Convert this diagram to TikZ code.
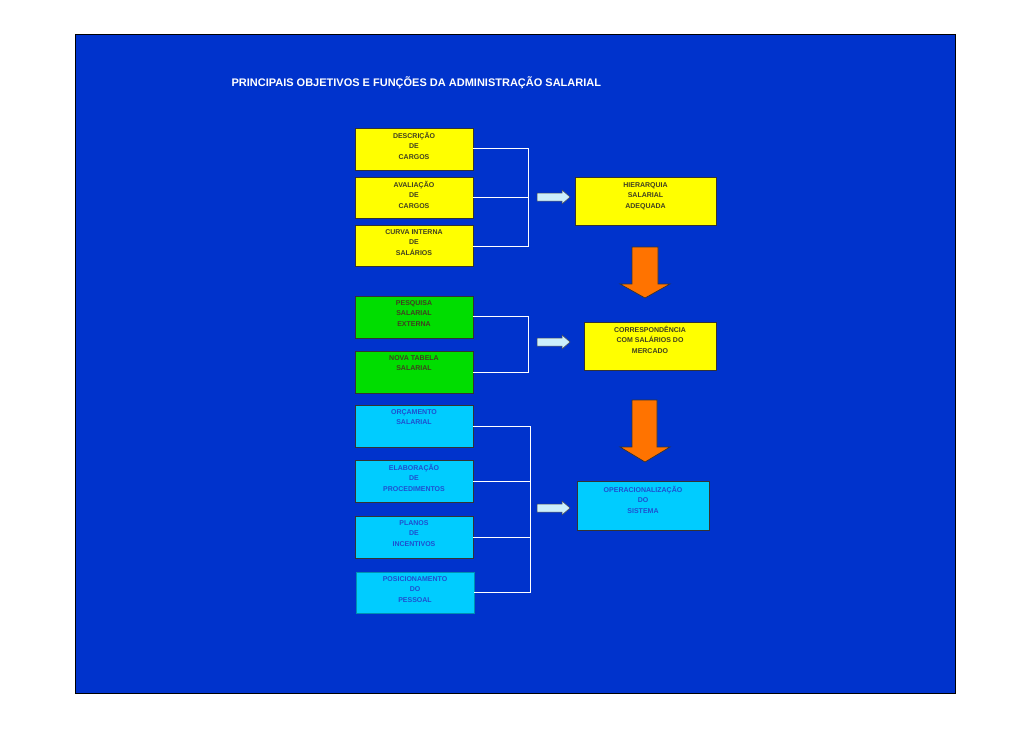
\documentclass[tikz,border=0pt]{standalone}
\usepackage{fontspec}
\setmainfont{Liberation Sans}
\begin{document}
\begin{tikzpicture}[x=1pt,y=-1pt,
 bx/.style={draw=black!80,line width=0.8pt,inner sep=0pt},
 tx/.style={anchor=north,align=center,font=\bfseries\fontsize{7}{10.5}\selectfont,inner sep=0pt},
 br/.style={draw=white,line width=0.6pt},
 sa/.style={draw=black!70,fill=cyan!20!white,line width=0.5pt},
 oa/.style={draw=black!80,fill=orange!90!red,line width=0.7pt}]
\definecolor{bg}{HTML}{0033CC}
\definecolor{yl}{HTML}{FFFF00}
\definecolor{gr}{HTML}{00DD00}
\definecolor{cy}{HTML}{00CCFF}
\definecolor{dk}{HTML}{404020}
\definecolor{bt}{HTML}{1F4FCF}
\useasboundingbox (0,0) rectangle (1030,728);
\fill[white] (0,0) rectangle (1030,728);
\draw[fill=bg,draw=black] (75,34) rectangle (955,693);
\node[anchor=west,text=white,font=\bfseries\fontsize{11}{13}\selectfont] (title) at (228,83) {PRINCIPAIS OBJETIVOS E FUNÇÕES DA ADMINISTRAÇÃO SALARIAL};
% left boxes
\newcommand\lbox[6]{\draw[bx,fill=#2] (#4,#5) rectangle (#4+118,#6); \node[tx,text=#3] (#1) at (#4+59,#5+4) {#1x};}
\draw[bx,fill=yl] (355,128) rectangle (473,170); \node[tx,text=dk] (b1) at (414,132) {DESCRIÇÃO\\DE\\CARGOS};
\draw[bx,fill=yl] (355,177) rectangle (473,218); \node[tx,text=dk] (b2) at (414,181) {AVALIAÇÃO\\DE\\CARGOS};
\draw[bx,fill=yl] (355,225) rectangle (473,266); \node[tx,text=dk] (b3) at (414,229) {CURVA INTERNA\\DE\\SALÁRIOS};
\draw[bx,fill=gr] (355,296) rectangle (473,338); \node[tx,text=dk] (b4) at (414,300) {PESQUISA\\SALARIAL\\EXTERNA};
\draw[bx,fill=gr] (355,351) rectangle (473,393); \node[tx,text=dk] (b5) at (414,355) {NOVA TABELA\\SALARIAL};
\draw[bx,fill=cy] (355,405) rectangle (473,447); \node[tx,text=bt] (b6) at (414,409) {ORÇAMENTO\\SALARIAL};
\draw[bx,fill=cy] (355,460) rectangle (473,502); \node[tx,text=bt] (b7) at (414,464) {ELABORAÇÃO\\DE\\PROCEDIMENTOS};
\draw[bx,fill=cy] (355,516) rectangle (473,558); \node[tx,text=bt] (b8) at (414,520) {PLANOS\\DE\\INCENTIVOS};
\draw[bx,fill=cy,draw=cy!70!black] (356,572) rectangle (474,613); \node[tx,text=bt] (b9) at (415,576) {POSICIONAMENTO\\DO\\PESSOAL};
% right boxes
\draw[bx,fill=yl] (575,177) rectangle (716,225); \node[tx,text=dk] (r1) at (645.5,182) {HIERARQUIA\\SALARIAL\\ADEQUADA};
\draw[bx,fill=yl] (584,322) rectangle (716,370); \node[tx,text=dk] (r2) at (650,326) {CORRESPONDÊNCIA\\COM SALÁRIOS DO\\MERCADO};
\draw[bx,fill=cy] (577,481) rectangle (709,530); \node[tx,text=bt] (r3) at (643,486) {OPERACIONALIZAÇÃO\\DO\\SISTEMA};
% brackets
\draw[br] (473,148) -- (528,148) -- (528,246) -- (473,246); \draw[br] (473,197) -- (528,197);
\draw[br] (473,316) -- (528,316) -- (528,372) -- (473,372);
\draw[br] (473,426) -- (530,426) -- (530,592) -- (474,592); \draw[br] (473,481) -- (530,481); \draw[br] (473,537) -- (530,537);
% small arrows
\foreach \y in {197,342,508}{\draw[sa] (537,\y-4) -- (562,\y-4) -- (562,\y-7) -- (570,\y) -- (562,\y+7) -- (562,\y+4) -- (537,\y+4) -- cycle;}
% orange arrows
\draw[oa] (632,247) -- (658,247) -- (658,284) -- (670,284) -- (645,298) -- (620,284) -- (632,284) -- cycle;
\draw[oa] (632,400) -- (657,400) -- (657,447) -- (670,447) -- (645,462) -- (620,447) -- (632,447) -- cycle;
\end{tikzpicture}
\end{document}
